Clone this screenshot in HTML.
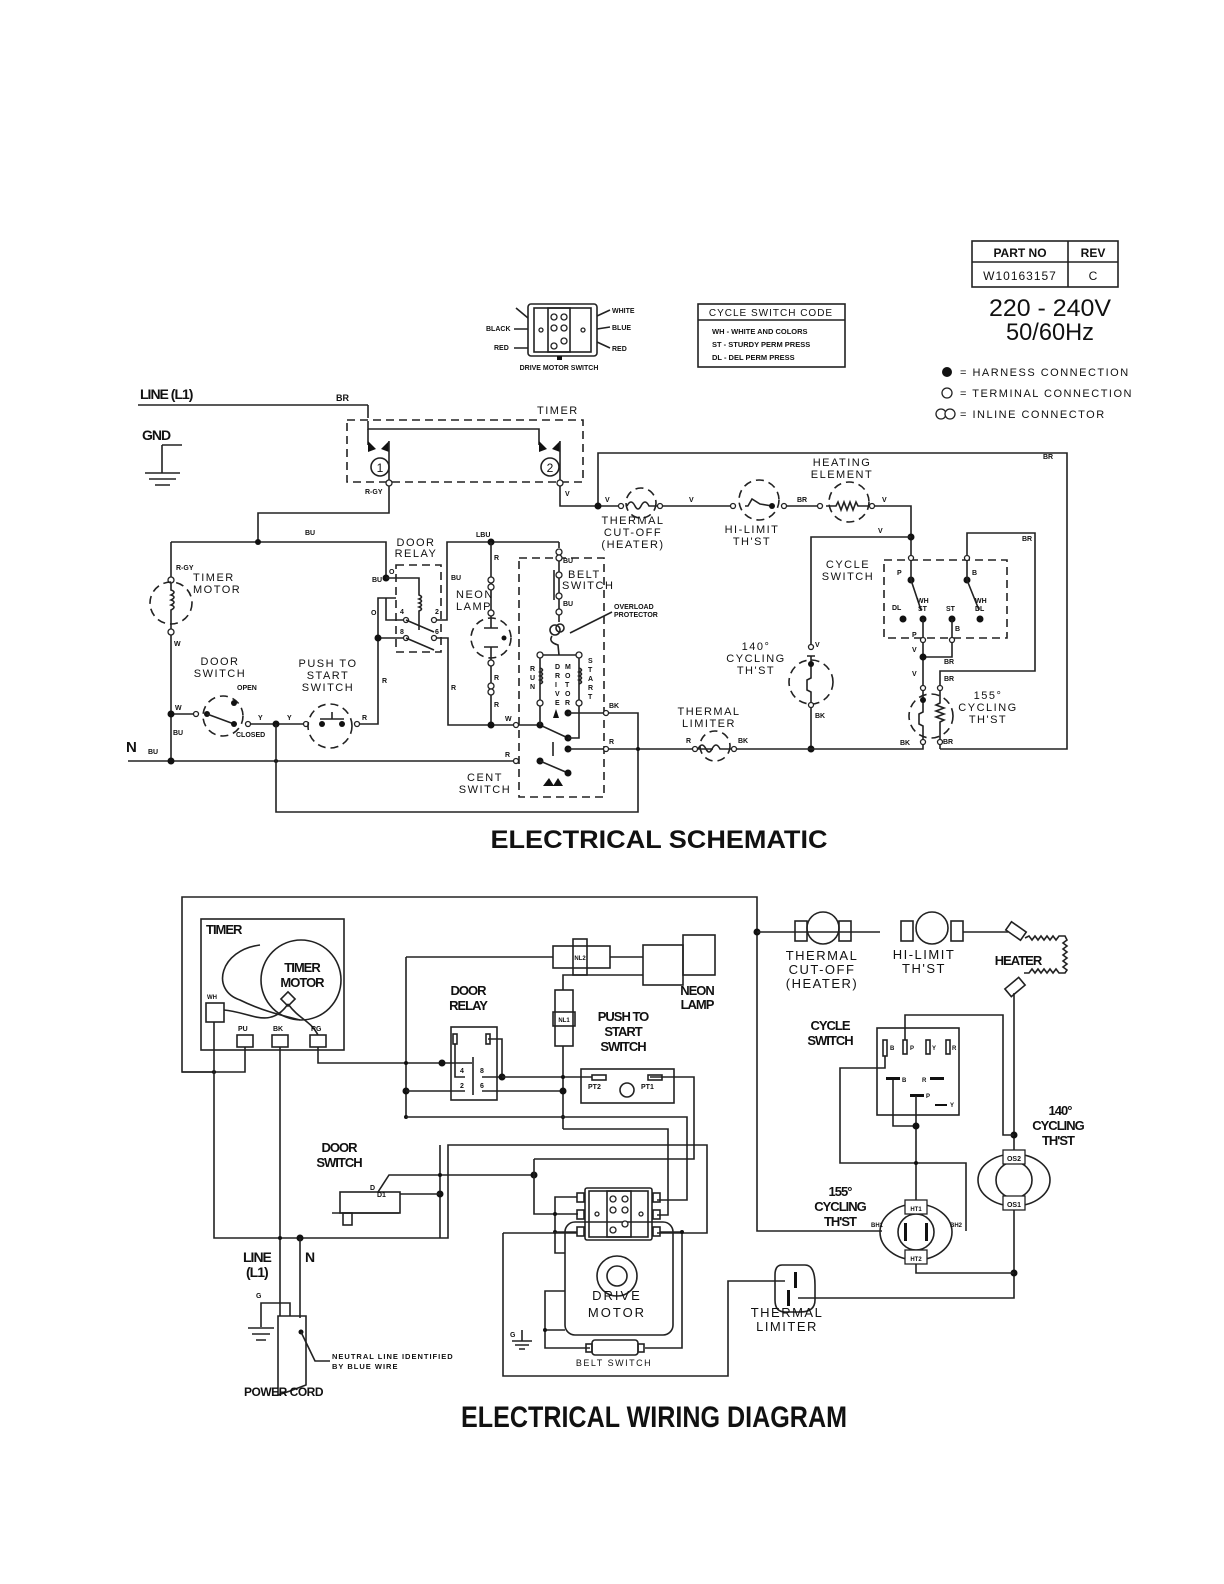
<!DOCTYPE html>
<html><head><meta charset="utf-8"><style>
html,body{margin:0;padding:0;background:#fff}
svg{display:block}
text{font-family:"Liberation Sans",sans-serif;fill:#111}
.s{font-size:9px}
.m{font-size:11px;letter-spacing:1.5px}
.b{font-weight:bold}
</style></head><body>
<svg width="1224" height="1584" viewBox="0 0 1224 1584" xmlns="http://www.w3.org/2000/svg">
<defs>
<style>
.w{stroke:#222;stroke-width:1.6;fill:none}
.dsh{stroke:#222;stroke-width:1.6;fill:none;stroke-dasharray:8,5}
.t{stroke:#222;stroke-width:1.3;fill:#fff}
.d{fill:#111}
</style>
</defs>

<!-- PART TABLE -->
<rect x="972" y="241" width="146" height="46" class="w"/>
<line x1="972" y1="262" x2="1118" y2="262" class="w"/>
<line x1="1068" y1="241" x2="1068" y2="287" class="w"/>
<text x="1020" y="257" text-anchor="middle" class="b" font-size="12">PART NO</text>
<text x="1093" y="257" text-anchor="middle" class="b" font-size="12">REV</text>
<text x="1020" y="280" text-anchor="middle" font-size="12" letter-spacing="1">W10163157</text>
<text x="1093" y="280" text-anchor="middle" font-size="12">C</text>
<text x="1050" y="316" text-anchor="middle" font-size="24" textLength="122" lengthAdjust="spacingAndGlyphs">220 - 240V</text>
<text x="1050" y="340" text-anchor="middle" font-size="24" textLength="88" lengthAdjust="spacingAndGlyphs">50/60Hz</text>
<circle cx="947" cy="372" r="5" class="d"/>
<text x="960" y="376" class="m" font-size="12">= HARNESS CONNECTION</text>
<circle cx="947" cy="393" r="5" class="t"/>
<text x="960" y="397" class="m" font-size="12">= TERMINAL CONNECTION</text>
<circle cx="941" cy="414" r="5" class="t"/><circle cx="950" cy="414" r="5" class="t"/>
<text x="960" y="418" class="m" font-size="12">= INLINE CONNECTOR</text>

<!-- CYCLE SWITCH CODE -->
<rect x="698" y="304" width="147" height="63" class="w"/>
<line x1="698" y1="320" x2="845" y2="320" class="w"/>
<text x="771" y="316" text-anchor="middle" font-size="10" letter-spacing="1">CYCLE SWITCH CODE</text>
<text x="712" y="334" font-size="7.5" class="b">WH - WHITE AND COLORS</text>
<text x="712" y="347" font-size="7.5" class="b">ST - STURDY PERM PRESS</text>
<text x="712" y="360" font-size="7.5" class="b">DL - DEL PERM PRESS</text>

<!-- DRIVE MOTOR SWITCH icon -->
<rect x="528" y="304" width="69" height="52" rx="3" class="w"/>
<rect x="534" y="308" width="57" height="44" class="w"/>
<rect x="548" y="308" width="22" height="44" class="w"/>
<circle cx="554" cy="317" r="3" class="t"/><circle cx="564" cy="317" r="3" class="t"/>
<circle cx="554" cy="328" r="3" class="t"/><circle cx="564" cy="328" r="3" class="t"/>
<circle cx="554" cy="346" r="3" class="t"/><circle cx="564" cy="341" r="3" class="t"/>
<circle cx="541" cy="330" r="2" class="t"/><circle cx="583" cy="330" r="2" class="t"/>
<rect x="557" y="356" width="5" height="4" class="d"/>
<path d="M516 308 L528 318 M514 329 L528 329 M514 348 L528 348 M597 316 L610 310 M597 329 L610 327 M597 342 L610 348" class="w"/>
<text x="486" y="331" font-size="7" class="b">BLACK</text>
<text x="494" y="350" font-size="7" class="b">RED</text>
<text x="612" y="313" font-size="7" class="b">WHITE</text>
<text x="612" y="330" font-size="7" class="b">BLUE</text>
<text x="612" y="351" font-size="7" class="b">RED</text>
<text x="559" y="370" text-anchor="middle" font-size="7" class="b">DRIVE MOTOR SWITCH</text>

<!-- ================= SCHEMATIC ================= -->
<text x="140" y="399" font-size="14" class="b" letter-spacing="-1">LINE (L1)</text>
<line x1="138" y1="405" x2="368" y2="405" class="w"/>
<text x="336" y="401" class="s b" font-size="7">BR</text>
<text x="142" y="440" font-size="14" class="b" letter-spacing="-1">GND</text>
<path d="M162 445 L182 445 M162 445 L162 473 M145 473 L180 473 M149 479 L176 479 M155 485 L170 485" class="w"/>

<!-- timer -->
<rect x="347" y="420" width="236" height="62" class="dsh"/>
<text x="537" y="414" class="m" font-size="10">TIMER</text>
<line x1="368" y1="405" x2="368" y2="418" class="w"/>
<path d="M368 421 L368 429 L539 429 L539 445" class="w"/>
<path d="M368 429 L368 445" class="w"/>
<polygon points="368,441 376,449 368,452" class="d"/><polygon points="389,441 381,449 389,452" class="d"/>
<polygon points="539,441 547,449 539,452" class="d"/><polygon points="560,441 552,449 560,452" class="d"/>
<line x1="389" y1="441" x2="389" y2="480" class="w"/>
<line x1="560" y1="441" x2="560" y2="480" class="w"/>
<circle cx="380" cy="467" r="9" class="w"/><text x="380" y="472" text-anchor="middle" font-size="12">1</text>
<circle cx="550" cy="467" r="9" class="w"/><text x="550" y="472" text-anchor="middle" font-size="12">2</text>
<circle cx="389" cy="483" r="3" class="t"/><circle cx="560" cy="483" r="3" class="t"/>
<text x="365" y="494" font-size="7" class="b">R-GY</text>
<text x="565" y="496" font-size="7" class="b">V</text>
<path d="M389 486 L389 513 L258 513 L258 542" class="w"/>
<!-- BU line -->
<path d="M171 542 L386 542 L386 577" class="w"/>
<circle cx="258" cy="542" r="3" class="d"/>
<text x="305" y="535" font-size="7" class="b">BU</text>
<!-- timer motor -->
<line x1="171" y1="542" x2="171" y2="577" class="w"/>
<circle cx="171" cy="580" r="3" class="t"/>
<circle cx="171" cy="603" r="21" class="dsh"/>
<path d="M171 583 L171 590 q6 2 0 5 q6 2 0 5 q6 2 0 5 q6 2 0 5 L171 629" class="w"/>
<circle cx="171" cy="632" r="3" class="t"/>
<text x="176" y="570" font-size="7" class="b">R-GY</text>
<text x="193" y="581" class="m" font-size="10">TIMER</text>
<text x="193" y="593" class="m" font-size="10">MOTOR</text>
<text x="174" y="646" font-size="7" class="b">W</text>
<path d="M171 635 L171 761" class="w"/>
<!-- N line -->
<text x="126" y="752" font-size="15" class="b">N</text>
<text x="148" y="754" font-size="7" class="b">BU</text>
<line x1="128" y1="761" x2="513" y2="761" class="w"/>
<circle cx="171" cy="761" r="3.5" class="d"/><circle cx="276" cy="761" r="2" class="d"/>
<text x="173" y="735" font-size="7" class="b">BU</text>
<!-- door switch -->
<line x1="171" y1="714" x2="194" y2="714" class="w"/>
<circle cx="171" cy="714" r="3.5" class="d"/>
<text x="175" y="710" font-size="7" class="b">W</text>
<circle cx="196" cy="714" r="2.5" class="t"/>
<circle cx="223" cy="716" r="20" class="dsh"/>
<circle cx="207" cy="714" r="3" class="d"/><line x1="207" y1="714" x2="234" y2="724" class="w"/>
<circle cx="234" cy="724" r="3" class="d"/><circle cx="234" cy="703" r="3" class="d"/>
<circle cx="248" cy="724" r="2.5" class="t"/>
<text x="237" y="690" font-size="7" class="b">OPEN</text>
<text x="236" y="737" font-size="7" class="b">CLOSED</text>
<text x="220" y="665" text-anchor="middle" class="m" font-size="10">DOOR</text>
<text x="220" y="677" text-anchor="middle" class="m" font-size="10">SWITCH</text>
<line x1="251" y1="724" x2="304" y2="724" class="w"/>
<circle cx="276" cy="724" r="3.5" class="d"/>
<text x="258" y="720" font-size="7" class="b">Y</text><text x="287" y="720" font-size="7" class="b">Y</text>
<circle cx="306" cy="724" r="2.5" class="t"/>
<circle cx="330" cy="726" r="22" class="dsh"/>
<circle cx="322" cy="724" r="3" class="d"/><circle cx="342" cy="724" r="3" class="d"/>
<path d="M320 719 L344 719 M332 719 L332 712" class="w"/>
<circle cx="357" cy="724" r="2.5" class="t"/>
<text x="362" y="720" font-size="7" class="b">R</text>
<text x="328" y="667" text-anchor="middle" class="m" font-size="10">PUSH TO</text>
<text x="328" y="679" text-anchor="middle" class="m" font-size="10">START</text>
<text x="328" y="691" text-anchor="middle" class="m" font-size="10">SWITCH</text>
<path d="M360 724 L378 724 L378 598 L396 598" class="w"/>
<text x="382" y="683" font-size="7" class="b">R</text>
<text x="371" y="615" font-size="7" class="b">O</text>
<path d="M276 724 L276 812 L638 812 L638 713 L606 713" class="w"/>
<!-- door relay -->
<rect x="396" y="565" width="45" height="87" class="dsh"/>
<text x="416" y="546" text-anchor="middle" class="m" font-size="9">DOOR</text>
<text x="416" y="557" text-anchor="middle" class="m" font-size="9">RELAY</text>
<circle cx="386" cy="578" r="3.5" class="d"/>
<text x="389" y="574" font-size="7" class="b">O</text>
<path d="M386 578 L419 578 L419 595 q5 2 0 4 q5 2 0 4 q5 2 0 4 q5 2 0 4 L419 630" class="w"/>
<path d="M386 598 L386 620 L405 620" class="w"/>
<text x="372" y="582" font-size="7" class="b">BU</text>
<path d="M378 638 L405 638" class="w"/><circle cx="378" cy="638" r="3.5" class="d"/>
<circle cx="406" cy="620" r="2.5" class="t"/><circle cx="406" cy="638" r="2.5" class="t"/>
<line x1="406" y1="620" x2="434" y2="632" class="w"/><line x1="406" y1="638" x2="434" y2="650" class="w"/>
<circle cx="434" cy="620" r="2.5" class="t"/><circle cx="434" cy="638" r="2.5" class="t"/>
<text x="400" y="614" font-size="7" class="b">4</text><text x="400" y="634" font-size="7" class="b">8</text>
<text x="435" y="614" font-size="7" class="b">2</text><text x="435" y="634" font-size="7" class="b">6</text>
<path d="M437 620 L447 620 L447 542 L559 542" class="w"/>
<path d="M437 638 L448 638 L448 725 L514 725" class="w"/>
<text x="451" y="580" font-size="7" class="b">BU</text>
<text x="451" y="690" font-size="7" class="b">R</text>
<text x="476" y="537" font-size="7" class="b">LBU</text>
<!-- neon -->
<circle cx="491" cy="542" r="3.5" class="d"/>
<path d="M491 542 L491 610 M491 666 L491 725" class="w"/>
<circle cx="491" cy="580" r="3" class="t"/><circle cx="491" cy="587" r="3" class="t"/><circle cx="491" cy="613" r="3" class="t"/>
<circle cx="491" cy="638" r="20" class="dsh"/>
<path d="M484 628 L498 628 M491 616 L491 628 M484 647 L498 647 M491 647 L491 662" class="w"/>
<circle cx="504" cy="638" r="2.5" class="d"/>
<circle cx="491" cy="663" r="3" class="t"/><circle cx="491" cy="686" r="3" class="t"/><circle cx="491" cy="692" r="3" class="t"/>
<text x="494" y="560" font-size="7" class="b">R</text><text x="494" y="680" font-size="7" class="b">R</text><text x="494" y="707" font-size="7" class="b">R</text>
<text x="456" y="598" class="m" font-size="10">NEON</text><text x="456" y="610" class="m" font-size="10">LAMP</text>
<circle cx="491" cy="725" r="3.5" class="d"/>
<!-- motor -->
<rect x="519" y="558" width="85" height="239" class="dsh"/>
<circle cx="516" cy="725" r="2.5" class="t"/><text x="505" y="721" font-size="7" class="b">W</text>
<path d="M519 725 L540 725 L568 738" class="w"/><circle cx="540" cy="725" r="3.5" class="d"/>
<circle cx="568" cy="738" r="3.5" class="d"/>
<path d="M568 738 L579 738 L579 705" class="w"/>
<path d="M559 542 L559 548 M559 556 L559 622" class="w"/>
<circle cx="559" cy="552" r="3" class="t"/><circle cx="559" cy="558" r="3" class="t"/>
<circle cx="559" cy="575" r="3" class="t"/><circle cx="559" cy="596" r="3" class="t"/><circle cx="559" cy="612" r="3" class="t"/>
<path d="M554 570 L554 600" class="w"/>
<text x="563" y="563" font-size="7" class="b">BU</text><text x="563" y="606" font-size="7" class="b">BU</text>
<text x="568" y="578" class="m" font-size="9">BELT</text><text x="562" y="589" class="m" font-size="9">SWITCH</text>
<circle cx="555" cy="630" r="5" class="w"/><circle cx="560" cy="628" r="4" class="w"/>
<path d="M552 636 q-4 6 6 9 L559 655" class="w"/>
<line x1="570" y1="633" x2="612" y2="612" class="w"/>
<text x="614" y="609" font-size="7" class="b">OVERLOAD</text><text x="614" y="617" font-size="7" class="b">PROTECTOR</text>
<path d="M540 655 L579 655 M540 655 L540 725 M579 655 L579 703" class="w"/>
<circle cx="540" cy="655" r="3" class="t"/><circle cx="579" cy="655" r="3" class="t"/>
<circle cx="540" cy="703" r="3" class="t"/><circle cx="579" cy="703" r="3" class="t"/>
<path d="M540 668 q5 2 0 4 q5 2 0 4 q5 2 0 4 q5 2 0 4 M579 668 q5 2 0 4 q5 2 0 4 q5 2 0 4 q5 2 0 4" class="w"/>
<text x="530" y="671" font-size="7" class="b">R</text><text x="530" y="680" font-size="7" class="b">U</text><text x="530" y="689" font-size="7" class="b">N</text>
<text x="555" y="669" font-size="7" class="b">D</text><text x="555" y="678" font-size="7" class="b">R</text><text x="555" y="687" font-size="7" class="b">I</text><text x="555" y="696" font-size="7" class="b">V</text><text x="555" y="705" font-size="7" class="b">E</text>
<text x="565" y="669" font-size="7" class="b">M</text><text x="565" y="678" font-size="7" class="b">O</text><text x="565" y="687" font-size="7" class="b">T</text><text x="565" y="696" font-size="7" class="b">O</text><text x="565" y="705" font-size="7" class="b">R</text>
<text x="588" y="663" font-size="7" class="b">S</text><text x="588" y="672" font-size="7" class="b">T</text><text x="588" y="681" font-size="7" class="b">A</text><text x="588" y="690" font-size="7" class="b">R</text><text x="588" y="699" font-size="7" class="b">T</text>
<polygon points="553,718 556,709 559,718" class="d"/>
<circle cx="568" cy="713" r="3.5" class="d"/><line x1="568" y1="713" x2="603" y2="713" class="w"/>
<circle cx="606" cy="713" r="2.5" class="t"/><text x="609" y="708" font-size="7" class="b">BK</text>
<circle cx="568" cy="749" r="3.5" class="d"/><line x1="568" y1="749" x2="603" y2="749" class="w"/>
<circle cx="606" cy="749" r="2.5" class="t"/><text x="609" y="744" font-size="7" class="b">R</text>
<line x1="553" y1="742" x2="553" y2="756" class="w"/>
<circle cx="516" cy="761" r="2.5" class="t"/><text x="505" y="757" font-size="7" class="b">R</text>
<circle cx="540" cy="761" r="3.5" class="d"/><line x1="540" y1="761" x2="568" y2="773" class="w"/><circle cx="568" cy="773" r="3.5" class="d"/>
<polygon points="543,786 549,778 554,786" class="d"/><polygon points="553,786 558,778 563,786" class="d"/>
<text x="485" y="781" text-anchor="middle" class="m" font-size="10">CENT</text>
<text x="485" y="793" text-anchor="middle" class="m" font-size="10">SWITCH</text>

<!-- right side schematic -->
<path d="M560 486 L560 506 L619 506" class="w"/>
<path d="M598 506 L598 453 L1067 453 L1067 749 L940 749" class="w"/>
<circle cx="598" cy="506" r="3.5" class="d"/>
<text x="1043" y="459" font-size="7" class="b">BR</text>
<text x="605" y="502" font-size="7" class="b">V</text>
<circle cx="621" cy="506" r="2.5" class="t"/>
<circle cx="641" cy="503" r="15" class="dsh"/>
<path d="M627 506 q4 -8 8 0 q3 6 6 0 q4 -8 8 0 L657 506" class="w"/>
<circle cx="660" cy="506" r="2.5" class="t"/>
<text x="633" y="524" text-anchor="middle" class="m" font-size="10">THERMAL</text>
<text x="633" y="536" text-anchor="middle" class="m" font-size="10">CUT-OFF</text>
<text x="633" y="548" text-anchor="middle" class="m" font-size="10">(HEATER)</text>
<line x1="663" y1="506" x2="731" y2="506" class="w"/>
<text x="689" y="502" font-size="7" class="b">V</text>
<circle cx="733" cy="506" r="2.5" class="t"/>
<circle cx="759" cy="500" r="20" class="dsh"/>
<path d="M745 506 L748 506 L752 499 L760 504 L772 506" class="w"/>
<circle cx="772" cy="506" r="3" class="d"/>
<circle cx="784" cy="506" r="2.5" class="t"/>
<text x="752" y="533" text-anchor="middle" class="m" font-size="10">HI-LIMIT</text>
<text x="752" y="545" text-anchor="middle" class="m" font-size="10">TH'ST</text>
<line x1="787" y1="506" x2="818" y2="506" class="w"/>
<text x="797" y="502" font-size="7" class="b">BR</text>
<circle cx="820" cy="506" r="2.5" class="t"/>
<circle cx="849" cy="502" r="20" class="dsh"/>
<path d="M826 506 L836 506 l2 -4 l3 8 l3 -8 l3 8 l3 -8 l3 8 l3 -8 l2 4 L870 506" class="w"/>
<circle cx="872" cy="506" r="2.5" class="t"/>
<text x="842" y="466" text-anchor="middle" class="m" font-size="10">HEATING</text>
<text x="842" y="478" text-anchor="middle" class="m" font-size="10">ELEMENT</text>
<path d="M875 506 L911 506 L911 555" class="w"/>
<text x="882" y="502" font-size="7" class="b">V</text>
<circle cx="911" cy="537" r="3.5" class="d"/>
<path d="M911 537 L811 537 L811 644" class="w"/>
<text x="878" y="533" font-size="7" class="b">V</text>
<circle cx="811" cy="647" r="2.5" class="t"/><text x="815" y="647" font-size="7" class="b">V</text>
<circle cx="811" cy="682" r="22" class="dsh"/>
<path d="M807 656 L815 656 M811 656 L811 664 L811 678 L807 680 L807 690 L811 692 L811 702" class="w"/>
<circle cx="811" cy="664" r="3" class="d"/>
<circle cx="811" cy="705" r="2.5" class="t"/><text x="815" y="718" font-size="7" class="b">BK</text>
<text x="756" y="650" text-anchor="middle" class="m" font-size="10">140°</text>
<text x="756" y="662" text-anchor="middle" class="m" font-size="10">CYCLING</text>
<text x="756" y="674" text-anchor="middle" class="m" font-size="10">TH'ST</text>
<line x1="811" y1="708" x2="811" y2="749" class="w"/>
<circle cx="811" cy="749" r="3.5" class="d"/>
<!-- R line to BK -->
<path d="M609 749 L713 749" class="w"/>
<path d="M638 749 L638 749" class="w"/><circle cx="638" cy="749" r="2" class="d"/>
<text x="686" y="743" font-size="7" class="b">R</text>
<circle cx="695" cy="749" r="2.5" class="t"/>
<circle cx="715" cy="746" r="15" class="dsh"/>
<path d="M698 749 q4 -8 8 0 q3 6 6 0 q4 -8 8 0 L733 749" class="w"/>
<circle cx="734" cy="749" r="2.5" class="t"/><text x="738" y="743" font-size="7" class="b">BK</text>
<text x="709" y="715" text-anchor="middle" class="m" font-size="10">THERMAL</text>
<text x="709" y="727" text-anchor="middle" class="m" font-size="10">LIMITER</text>
<line x1="737" y1="749" x2="922" y2="749" class="w"/>
<text x="900" y="745" font-size="7" class="b">BK</text>
<!-- cycle switch -->
<rect x="884" y="560" width="123" height="78" class="dsh"/>
<text x="848" y="568" text-anchor="middle" class="m" font-size="10">CYCLE</text>
<text x="848" y="580" text-anchor="middle" class="m" font-size="10">SWITCH</text>
<circle cx="911" cy="558" r="2.5" class="t"/>
<circle cx="911" cy="580" r="3.5" class="d"/><line x1="911" y1="561" x2="911" y2="580" class="w"/>
<line x1="911" y1="580" x2="921" y2="610" class="w"/>
<text x="897" y="575" font-size="7" class="b">P</text>
<circle cx="903" cy="619" r="3.5" class="d"/><circle cx="923" cy="619" r="3.5" class="d"/><circle cx="952" cy="619" r="3.5" class="d"/>
<text x="892" y="610" font-size="7" class="b">DL</text><text x="917" y="603" font-size="7" class="b">WH</text><text x="918" y="611" font-size="7" class="b">ST</text>
<text x="946" y="611" font-size="7" class="b">ST</text>
<circle cx="967" cy="558" r="2.5" class="t"/>
<circle cx="967" cy="580" r="3.5" class="d"/><line x1="967" y1="561" x2="967" y2="580" class="w"/>
<line x1="967" y1="580" x2="979" y2="610" class="w"/>
<circle cx="980" cy="619" r="3.5" class="d"/>
<text x="972" y="575" font-size="7" class="b">B</text>
<text x="975" y="603" font-size="7" class="b">WH</text><text x="975" y="611" font-size="7" class="b">DL</text>
<path d="M967 555 L967 533 L1035 533 L1035 671 L940 671 L940 686" class="w"/>
<text x="1022" y="541" font-size="7" class="b">BR</text>
<path d="M923 619 L923 637 M952 619 L952 637" class="w"/>
<circle cx="923" cy="640" r="2.5" class="t"/><circle cx="952" cy="640" r="2.5" class="t"/>
<text x="912" y="637" font-size="7" class="b">P</text><text x="955" y="631" font-size="7" class="b">B</text>
<path d="M923 643 L923 686 M952 643 L952 657 L923 657" class="w"/>
<circle cx="923" cy="657" r="3.5" class="d"/>
<text x="912" y="652" font-size="7" class="b">V</text><text x="944" y="664" font-size="7" class="b">BR</text>
<text x="912" y="676" font-size="7" class="b">V</text><text x="944" y="681" font-size="7" class="b">BR</text>
<circle cx="923" cy="688" r="2.5" class="t"/><circle cx="940" cy="688" r="2.5" class="t"/>
<circle cx="931" cy="716" r="22" class="dsh"/>
<path d="M923 691 L923 712 L919 714 L919 724 L923 726 L923 739 M940 691 L940 703 l-4 2 l8 3 l-8 3 l8 3 l-8 3 l8 3 l-4 2 L940 739" class="w"/>
<circle cx="923" cy="700" r="3" class="d"/>
<circle cx="923" cy="742" r="2.5" class="t"/><circle cx="940" cy="742" r="2.5" class="t"/>
<path d="M923 745 L923 749 L922 749 M940 745 L940 749" class="w"/>
<text x="943" y="744" font-size="7" class="b">BR</text>
<text x="988" y="699" text-anchor="middle" class="m" font-size="10">155°</text>
<text x="988" y="711" text-anchor="middle" class="m" font-size="10">CYCLING</text>
<text x="988" y="723" text-anchor="middle" class="m" font-size="10">TH'ST</text>

<text x="659" y="848" text-anchor="middle" font-size="25" class="b" textLength="337" lengthAdjust="spacingAndGlyphs">ELECTRICAL  SCHEMATIC</text>

<!-- ================= WIRING DIAGRAM ================= -->
<path d="M214 1072 L182 1072 L182 897 L757 897 L757 1231 L882 1231" class="w"/>
<path d="M182 1072 L245 1072 L245 1047" class="w"/>
<circle cx="214" cy="1072" r="2" class="d"/>
<rect x="201" y="919" width="143" height="131" class="w"/>
<text x="206" y="934" font-size="13" class="b" letter-spacing="-1">TIMER</text>
<path d="M260 945 C220 950 210 990 240 1000 C260 1010 280 1015 300 1020" class="w"/>
<circle cx="301" cy="980" r="40" class="w"/>
<text x="302" y="972" text-anchor="middle" font-size="13" class="b" letter-spacing="-1">TIMER</text>
<text x="302" y="987" text-anchor="middle" font-size="13" class="b" letter-spacing="-1">MOTOR</text>
<rect x="283" y="994" width="10" height="10" transform="rotate(45 288 999)" class="w"/>
<path d="M224 1010 C250 1012 270 1030 288 1004 M288 1004 C300 1020 310 1020 318 1035" class="w"/>
<rect x="206" y="1003" width="18" height="19" class="w"/><text x="207" y="999" font-size="6" class="b">WH</text>
<rect x="237" y="1035" width="16" height="12" class="w"/><text x="238" y="1031" font-size="7" class="b">PU</text>
<rect x="272" y="1035" width="16" height="12" class="w"/><text x="273" y="1031" font-size="7" class="b">BK</text>
<rect x="310" y="1035" width="16" height="12" class="w"/><text x="311" y="1031" font-size="7" class="b">RG</text>
<path d="M214 1022 L214 1238 L448 1238 L448 1145 L707 1145 L707 1233 L657 1233" class="w"/>
<path d="M280 1047 L280 1316" class="w"/>
<path d="M318 1047 L318 1063 L472 1063" class="w"/>
<circle cx="280" cy="1238" r="2" class="d"/><circle cx="300" cy="1238" r="3.5" class="d"/>
<line x1="300" y1="1238" x2="300" y2="1318" class="w"/>
<text x="243" y="1262" font-size="14" class="b" letter-spacing="-1">LINE</text>
<text x="246" y="1277" font-size="14" class="b" letter-spacing="-1">(L1)</text>
<text x="305" y="1262" font-size="14" class="b">N</text>
<text x="256" y="1298" font-size="7" class="b">G</text>
<path d="M261 1327 L261 1303 L290 1303 L290 1316" class="w"/>
<path d="M248 1328 L274 1328 M252 1334 L270 1334 M256 1340 L266 1340" class="w"/>
<path d="M278 1316 L306 1316 L306 1385 L290 1391 L278 1395 Z" class="w"/>
<circle cx="301" cy="1332" r="2.5" class="d"/>
<path d="M301 1332 L315 1361 L330 1361" class="w"/>
<text x="332" y="1359" font-size="7.5" class="b" letter-spacing="1">NEUTRAL LINE IDENTIFIED</text>
<text x="332" y="1369" font-size="7.5" class="b" letter-spacing="1">BY BLUE WIRE</text>
<text x="244" y="1396" font-size="12" class="b" letter-spacing="-0.5">POWER CORD</text>

<!-- door relay wiring -->
<path d="M406 957 L553 957 M610 957 L643 957" class="w"/>
<rect x="553" y="946" width="57" height="22" class="w"/><rect x="573" y="939" width="14" height="36" class="w"/>
<text x="580" y="960" font-size="6" class="b" text-anchor="middle">NL2</text>
<rect x="643" y="945" width="40" height="40" class="w"/><rect x="683" y="935" width="32" height="40" class="w"/>
<text x="697" y="995" text-anchor="middle" font-size="13" class="b" letter-spacing="-1">NEON</text>
<text x="697" y="1009" text-anchor="middle" font-size="13" class="b" letter-spacing="-1">LAMP</text>
<path d="M643 975 L563 975 L563 990" class="w"/>
<rect x="555" y="990" width="18" height="56" class="w"/><rect x="553" y="1012" width="22" height="14" class="w"/>
<text x="564" y="1022" font-size="6" class="b" text-anchor="middle">NL1</text>
<line x1="406" y1="957" x2="406" y2="1117" class="w"/>
<circle cx="406" cy="1063" r="2" class="d"/><circle cx="406" cy="1091" r="3.5" class="d"/><circle cx="406" cy="1117" r="2" class="d"/>
<text x="468" y="995" text-anchor="middle" font-size="13" class="b" letter-spacing="-1">DOOR</text>
<text x="468" y="1010" text-anchor="middle" font-size="13" class="b" letter-spacing="-1">RELAY</text>
<rect x="451" y="1027" width="46" height="73" class="w"/>
<line x1="473" y1="1057" x2="473" y2="1095" class="w"/>
<rect x="453" y="1034" width="4" height="10" class="w"/><rect x="486" y="1034" width="4" height="10" class="w"/>
<path d="M455 1044 L455 1077 L465 1077 M488 1039 L502 1039 L502 1077 L482 1077" class="w"/>
<circle cx="442" cy="1063" r="3.5" class="d"/><circle cx="502" cy="1077" r="3.5" class="d"/>
<path d="M406 1091 L465 1091 M482 1091 L563 1091" class="w"/>
<text x="460" y="1073" font-size="7" class="b">4</text><text x="480" y="1073" font-size="7" class="b">8</text>
<text x="460" y="1088" font-size="7" class="b">2</text><text x="480" y="1088" font-size="7" class="b">6</text>
<path d="M502 1077 L592 1077 M650 1077 L694 1077 L694 1159 L534 1159" class="w"/>
<line x1="563" y1="1046" x2="563" y2="1129" class="w"/>
<circle cx="563" cy="1077" r="2" class="d"/><circle cx="563" cy="1091" r="3.5" class="d"/><circle cx="563" cy="1117" r="2" class="d"/>
<text x="623" y="1021" text-anchor="middle" font-size="13" class="b" letter-spacing="-1">PUSH TO</text>
<text x="623" y="1036" text-anchor="middle" font-size="13" class="b" letter-spacing="-1">START</text>
<text x="623" y="1051" text-anchor="middle" font-size="13" class="b" letter-spacing="-1">SWITCH</text>
<rect x="581" y="1069" width="93" height="34" class="w"/>
<rect x="592" y="1075" width="14" height="5" class="w"/><rect x="648" y="1075" width="14" height="5" class="w"/>
<text x="588" y="1089" font-size="7" class="b">PT2</text><text x="641" y="1089" font-size="7" class="b">PT1</text>
<circle cx="627" cy="1090" r="7" class="w"/>
<path d="M406 1117 L687 1117 L687 1200 L657 1200" class="w"/>
<path d="M563 1129 L668 1129 L668 1215 L657 1215" class="w"/>
<!-- door switch -->
<text x="339" y="1152" text-anchor="middle" font-size="13" class="b" letter-spacing="-1">DOOR</text>
<text x="339" y="1167" text-anchor="middle" font-size="13" class="b" letter-spacing="-1">SWITCH</text>
<path d="M378 1192 L389 1175 L534 1175" class="w"/>
<path d="M440 1145 L440 1238" class="w"/>
<circle cx="440" cy="1175" r="2" class="d"/><circle cx="440" cy="1194" r="3.5" class="d"/>
<rect x="340" y="1192" width="60" height="21" class="w"/>
<line x1="332" y1="1213" x2="399" y2="1213" class="w"/>
<rect x="343" y="1213" width="9" height="12" class="w"/>
<text x="370" y="1190" font-size="7" class="b">D</text><text x="377" y="1197" font-size="7" class="b">D1</text>
<path d="M400 1194 L440 1194" class="w"/>
<circle cx="534" cy="1175" r="3.5" class="d"/>
<path d="M534 1159 L534 1214 L578 1214" class="w"/>
<!-- motor -->
<rect x="565" y="1222" width="108" height="113" rx="10" class="w"/>
<rect x="585" y="1188" width="67" height="52" rx="2" class="w"/>
<rect x="589" y="1191" width="59" height="46" class="w"/>
<rect x="607" y="1191" width="24" height="46" class="w"/>
<circle cx="613" cy="1199" r="3" class="t"/><circle cx="625" cy="1199" r="3" class="t"/>
<circle cx="613" cy="1210" r="3" class="t"/><circle cx="625" cy="1210" r="3" class="t"/>
<circle cx="613" cy="1230" r="3" class="t"/><circle cx="625" cy="1224" r="3" class="t"/>
<circle cx="597" cy="1214" r="2" class="t"/><circle cx="641" cy="1214" r="2" class="t"/>
<rect x="577" y="1193" width="7" height="9" class="w"/><rect x="577" y="1210" width="7" height="9" class="w"/><rect x="577" y="1227" width="7" height="9" class="w"/>
<rect x="653" y="1193" width="7" height="9" class="w"/><rect x="653" y="1210" width="7" height="9" class="w"/><rect x="653" y="1227" width="7" height="9" class="w"/>
<circle cx="617" cy="1276" r="20" class="w"/><circle cx="617" cy="1276" r="10" class="w"/>
<text x="617" y="1300" text-anchor="middle" font-size="13" letter-spacing="2">DRIVE</text>
<text x="617" y="1317" text-anchor="middle" font-size="13" letter-spacing="2">MOTOR</text>
<path d="M577 1197 L555 1197 L555 1253 L565 1253 M555 1214 L555 1214 M555 1232 L577 1232" class="w"/>
<circle cx="555" cy="1214" r="2" class="d"/><circle cx="555" cy="1232" r="2" class="d"/>
<path d="M660 1232 L682 1232 L682 1348 L645 1348" class="w"/>
<circle cx="682" cy="1232" r="2" class="d"/>
<path d="M503 1233 L577 1233 M503 1233 L503 1376 L728 1376 L728 1281 L785 1281" class="w"/>
<path d="M565 1291 L545 1291 L545 1348 L590 1348 M545 1330 L565 1330" class="w"/>
<circle cx="545" cy="1330" r="2" class="d"/>
<text x="510" y="1337" font-size="7" class="b">G</text>
<path d="M522 1330 L522 1341 M512 1341 L532 1341 M515 1345 L529 1345 M519 1349 L525 1349" class="w"/>
<rect x="592" y="1340" width="46" height="15" rx="3" class="w"/>
<rect x="586" y="1344" width="6" height="8" class="w"/><rect x="638" y="1344" width="6" height="8" class="w"/>
<text x="614" y="1366" text-anchor="middle" font-size="9" letter-spacing="1.5">BELT SWITCH</text>

<!-- right wiring -->
<circle cx="757" cy="932" r="3.5" class="d"/>
<line x1="757" y1="932" x2="880" y2="932" class="w"/>
<circle cx="823" cy="928" r="16" class="w"/>
<rect x="795" y="921" width="12" height="20" class="w"/><rect x="839" y="921" width="12" height="20" class="w"/>
<text x="822" y="960" text-anchor="middle" font-size="13" letter-spacing="1.5">THERMAL</text>
<text x="822" y="974" text-anchor="middle" font-size="13" letter-spacing="1.5">CUT-OFF</text>
<text x="822" y="988" text-anchor="middle" font-size="13" letter-spacing="1.5">(HEATER)</text>
<circle cx="932" cy="928" r="16" class="w"/>
<rect x="901" y="921" width="12" height="20" class="w"/><rect x="951" y="921" width="12" height="20" class="w"/>
<text x="924" y="959" text-anchor="middle" font-size="13" letter-spacing="1.5">HI-LIMIT</text>
<text x="924" y="973" text-anchor="middle" font-size="13" letter-spacing="1.5">TH'ST</text>
<path d="M963 932 L1008 932" class="w"/>
<rect x="1007" y="926" width="18" height="10" transform="rotate(35 1016 931)" class="w"/>
<path d="M1025 938 l4 -2 l3 4 l3 -4 l3 4 l3 -4 l3 4 l3 -4 l3 4 l3 -4 l3 4 l3 -4 l6 0 l2 4 l-4 3 l4 3 l-4 3 l4 3 l-4 3 l4 3 l-4 3 l4 3 l-4 3 l4 3 l-2 3 l-6 0 l-3 -4 l-3 4 l-3 -4 l-3 4 l-3 -4 l-3 4 l-3 -4 l-3 4 l-3 -4 l-3 4 l-5 0" class="w"/>
<rect x="1006" y="982" width="18" height="10" transform="rotate(-40 1015 987)" class="w"/>
<text x="1018" y="965" text-anchor="middle" font-size="13" class="b" letter-spacing="-1">HEATER</text>
<path d="M1014 993 L1014 1158 M1014 1203 L1014 1298 L798 1298" class="w"/>
<circle cx="1014" cy="1135" r="3.5" class="d"/><circle cx="1014" cy="1273" r="3.5" class="d"/>
<path d="M1014 1135 L1003 1135 L1003 1015 L905 1015 L905 1040" class="w"/>
<text x="1060" y="1115" text-anchor="middle" font-size="13" class="b" letter-spacing="-1">140°</text>
<text x="1058" y="1130" text-anchor="middle" font-size="13" class="b" letter-spacing="-1">CYCLING</text>
<text x="1058" y="1145" text-anchor="middle" font-size="13" class="b" letter-spacing="-1">TH'ST</text>
<ellipse cx="1014" cy="1180" rx="36" ry="26" class="w"/>
<circle cx="1014" cy="1180" r="18" class="w"/>
<rect x="1003" y="1150" width="22" height="14" class="t"/><text x="1014" y="1161" text-anchor="middle" font-size="7" class="b">OS2</text>
<rect x="1003" y="1196" width="22" height="14" class="t"/><text x="1014" y="1207" text-anchor="middle" font-size="7" class="b">OS1</text>
<text x="830" y="1030" text-anchor="middle" font-size="13" class="b" letter-spacing="-1">CYCLE</text>
<text x="830" y="1045" text-anchor="middle" font-size="13" class="b" letter-spacing="-1">SWITCH</text>
<rect x="877" y="1028" width="82" height="87" class="w"/>
<rect x="883" y="1040" width="4" height="16" class="w"/><rect x="903" y="1040" width="4" height="14" class="w"/><rect x="926" y="1040" width="4" height="14" class="w"/><rect x="946" y="1040" width="4" height="14" class="w"/>
<text x="890" y="1050" font-size="6" class="b">B</text><text x="910" y="1050" font-size="6" class="b">P</text><text x="932" y="1050" font-size="6" class="b">Y</text><text x="952" y="1050" font-size="6" class="b">R</text>
<rect x="886" y="1077" width="14" height="3" class="d"/><text x="902" y="1082" font-size="6" class="b">B</text>
<rect x="930" y="1077" width="14" height="3" class="d"/><text x="922" y="1082" font-size="6" class="b">R</text>
<rect x="910" y="1094" width="14" height="3" class="d"/><text x="926" y="1098" font-size="6" class="b">P</text>
<rect x="935" y="1104" width="12" height="2" class="d"/><text x="950" y="1107" font-size="6" class="b">Y</text>
<path d="M885 1056 L885 1068 L840 1068 L840 1163 L966 1163 L966 1231" class="w"/>
<path d="M893 1080 L893 1126 L916 1126 M916 1096 L916 1200" class="w"/>
<circle cx="916" cy="1126" r="3.5" class="d"/><circle cx="916" cy="1163" r="2" class="d"/>
<text x="840" y="1196" text-anchor="middle" font-size="13" class="b" letter-spacing="-1">155°</text>
<text x="840" y="1211" text-anchor="middle" font-size="13" class="b" letter-spacing="-1">CYCLING</text>
<text x="840" y="1226" text-anchor="middle" font-size="13" class="b" letter-spacing="-1">TH'ST</text>
<ellipse cx="916" cy="1232" rx="36" ry="28" class="w"/>
<circle cx="916" cy="1232" r="18" class="w"/>
<rect x="905" y="1200" width="22" height="14" class="t"/><text x="916" y="1211" text-anchor="middle" font-size="6" class="b">HT1</text>
<rect x="905" y="1250" width="22" height="14" class="t"/><text x="916" y="1261" text-anchor="middle" font-size="6" class="b">HT2</text>
<rect x="904" y="1223" width="3" height="18" class="d"/><rect x="925" y="1223" width="3" height="18" class="d"/>
<text x="871" y="1227" font-size="6" class="b">BH1</text><text x="950" y="1227" font-size="6" class="b">BH2</text>
<path d="M916 1264 L916 1273 L1014 1273" class="w"/>
<path d="M782 1265 L805 1265 Q815 1265 815 1285 L815 1300 Q815 1312 800 1312 L785 1312 Q775 1312 775 1300 L775 1275 Q775 1265 782 1265 Z" class="w"/>
<rect x="794" y="1272" width="3" height="16" class="d"/><rect x="787" y="1290" width="3" height="16" class="d"/>
<text x="787" y="1317" text-anchor="middle" font-size="13" letter-spacing="1.5">THERMAL</text>
<text x="787" y="1331" text-anchor="middle" font-size="13" letter-spacing="1.5">LIMITER</text>

<text x="654" y="1427" text-anchor="middle" font-size="30" class="b" textLength="386" lengthAdjust="spacingAndGlyphs">ELECTRICAL  WIRING  DIAGRAM</text>
</svg>
</body></html>
